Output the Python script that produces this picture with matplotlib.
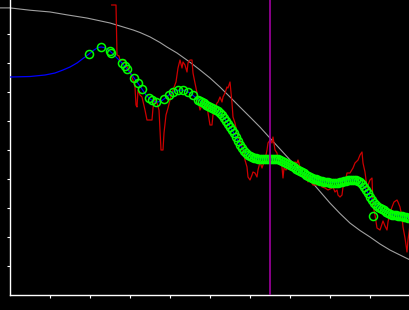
import matplotlib
matplotlib.use("Agg")
import matplotlib.pyplot as plt

# reference curve (grey)
ref_x = [-2.5, 0, 5, 10, 14.25, 19.25, 25, 27.5, 30.75, 32.5, 35, 37.5, 39.25, 41.75,
         44.25, 45.75, 47.5, 50, 52.5, 55, 57.5, 60, 62.5, 65, 67.5, 70, 72.5, 75, 77.5,
         80, 82.5, 85, 87.5, 90, 92.5, 95, 97.5, 100]
ref_y = [9.90, 9.90, 9.82, 9.76, 9.66, 9.55, 9.38, 9.276, 9.14, 9.052, 8.90, 8.707, 8.55,
         8.345, 8.10, 7.948, 7.76, 7.483, 7.17, 6.828, 6.48, 6.138, 5.79, 5.41, 5.034,
         4.66, 4.31, 3.97, 3.569, 3.17, 2.81, 2.48, 2.224, 2.00, 1.759, 1.55, 1.379, 1.21]

# raw signal (red)
raw_x = [25.43, 26.5, 26.75, 27.25, 27.5, 28.75, 29.0, 30.0, 30.75, 31.25, 31.5, 31.75,
         32.0, 32.5, 33.0, 33.75, 34.25, 35.5, 35.75, 36.25, 36.75, 37.25, 37.5, 37.75,
         38.25, 38.5, 39.0, 39.5, 40.0, 40.75, 41.5, 42.0, 42.5, 43.0, 43.25, 43.75,
         44.25, 44.5, 45.0, 45.5, 45.75, 46.25, 46.75, 47.0, 47.5, 48.0, 48.25, 48.75,
         49.25, 49.5, 50.0, 50.5, 50.75, 51.25, 51.75, 52.0, 52.5, 53.0, 53.25, 53.75,
         54.25, 54.5, 55.0, 55.25, 55.5, 55.75, 56.25, 56.75, 57.0, 57.5, 58.25, 58.75,
         59.25, 59.5, 60.0, 60.5, 60.75, 61.25, 61.75, 62.0, 62.5, 63.0, 63.25, 63.75,
         64.25, 64.5, 65.0, 65.5, 65.75, 66.25, 66.75, 67.0, 67.5, 68.0, 68.25, 68.5,
         69.0, 69.5, 70.0, 70.75, 71.25, 71.75, 72.0, 72.5, 73.0, 73.25, 74.25, 74.5,
         75.0, 75.75, 76.75, 77.0, 77.5, 78.0, 78.75, 79.5, 80.5, 80.75, 81.25, 81.75,
         82.0, 82.5, 83.0, 83.25, 83.75, 84.25, 85.0, 85.75, 86.25, 87.0, 87.5, 88.0,
         88.25, 88.75, 89.25, 89.5, 90.0, 90.5, 90.75, 91.25, 91.75, 92.5, 93.0, 93.25,
         93.75, 94.25, 94.5, 95.0, 95.5, 96.0, 96.75, 97.0, 97.5, 98.0, 98.25, 98.75,
         99.25, 99.5, 100.0]
raw_y = [10.0, 10.0, 8.276, 8.241, 8.103, 8.103, 7.931, 7.690, 7.414, 7.172, 6.552, 6.483,
         7.069, 6.897, 6.828, 6.379, 6.034, 6.034, 6.448, 6.793, 6.621, 6.379, 5.690, 5.0,
         5.0, 5.586, 6.207, 6.448, 6.724, 7.069, 7.345, 7.828, 8.103, 7.828, 8.034, 7.931,
         7.690, 8.0, 8.103, 8.103, 7.655, 7.310, 6.966, 6.724, 6.379, 6.552, 6.724, 6.483,
         6.621, 6.276, 5.862, 5.862, 6.207, 6.448, 6.621, 6.655, 6.828, 6.655, 6.828, 6.966,
         7.172, 7.138, 7.345, 7.0, 6.621, 6.138, 5.931, 5.586, 5.448, 5.345, 5.0, 4.655,
         4.414, 4.069, 3.966, 4.138, 4.241, 4.207, 4.069, 4.310, 4.586, 4.379, 4.483, 4.655,
         5.0, 5.241, 5.345, 5.241, 5.448, 5.0, 4.897, 4.655, 4.759, 4.414, 4.034, 4.379,
         4.310, 4.414, 4.379, 4.552, 4.586, 4.552, 4.655, 4.414, 4.310, 4.138, 4.069, 3.897,
         3.966, 3.793, 3.793, 3.966, 3.862, 3.724, 3.690, 3.621, 3.690, 3.724, 3.552, 3.621,
         3.448, 3.379, 3.448, 3.724, 3.862, 4.207, 4.207, 4.379, 4.552, 4.655, 4.828, 4.931,
         4.552, 4.241, 3.690, 3.793, 3.966, 4.034, 3.103, 2.759, 2.310, 2.241, 2.448, 2.552,
         2.379, 2.241, 2.517, 2.828, 3.034, 3.207, 3.276, 3.207, 3.034, 2.690, 2.345, 1.966,
         1.483, 1.897, 2.414]

# smooth fit (blue), head part without markers
curve_x = [0, 5, 8.75, 11.25, 13.25, 15, 16.75, 18.25, 19.75, 21, 22, 22.75, 23.5,
           24.5, 25.5, 26.75, 28, 29.25, 30.5, 31.75, 33, 34, 35, 36, 37, 38, 39, 40,
           41.25, 42.5, 43.75, 45, 46.25]
curve_y = [7.517, 7.534, 7.586, 7.655, 7.759, 7.862, 8.0, 8.155, 8.310, 8.448, 8.534,
           8.552, 8.534, 8.466, 8.345, 8.172, 8.0, 7.793, 7.586, 7.345, 7.103, 6.897,
           6.759, 6.672, 6.655, 6.707, 6.810, 6.931, 7.034, 7.069, 7.052, 6.966, 6.828]

# sparse fitted points (green rings)
ring_x = [19.75, 22.75, 24.9, 25.3, 28.0, 28.75, 29.25, 31.0, 32.0, 33.0, 34.75, 35.5,
          36.5, 38.5, 39.75, 40.75, 42.0, 43.25, 44.5, 45.75, 47.0]
ring_y = [8.310, 8.552, 8.400, 8.360, 8.000, 7.897, 7.793, 7.483, 7.310, 7.103, 6.793,
          6.724, 6.655, 6.759, 6.897, 7.000, 7.069, 7.069, 7.000, 6.897, 6.741]

# dense fitted points (green band, also continues the blue line)
band_x = [47.5, 48.0, 48.5, 49.0, 49.5, 50.0, 50.5, 51.0, 51.5, 52.0, 52.5, 53.0, 53.5,
          54.0, 54.5, 55.0, 55.5, 56.0, 56.5, 57.0, 57.5, 58.0, 58.5, 59.0, 59.5, 60.0,
          60.5, 61.0, 61.5, 62.0, 62.5, 63.0, 63.5, 64.0, 64.5, 65.0, 65.5, 66.0, 66.5,
          67.0, 67.5, 68.0, 68.5, 69.0, 69.5, 70.0, 70.5, 71.0, 71.5, 72.0, 72.5, 73.0,
          73.5, 74.0, 74.5, 75.0, 75.5, 76.0, 76.5, 77.0, 77.5, 78.0, 78.5, 79.0, 79.5,
          80.0, 80.5, 81.0, 81.5, 82.0, 82.5, 83.0, 83.5, 84.0, 84.5, 85.0, 85.5, 86.0,
          86.5, 87.0, 87.5, 88.0, 88.5, 89.0, 89.5, 90.0, 90.5, 91.0, 91.5, 92.0, 92.5,
          93.0, 93.5, 94.0, 94.5, 95.0, 95.5, 96.0, 96.5, 97.0, 97.5, 98.0, 98.5, 99.0,
          99.5, 100.0]
band_y = [6.690, 6.648, 6.607, 6.566, 6.524, 6.483, 6.455, 6.428, 6.393, 6.338, 6.276,
          6.193, 6.110, 6.014, 5.903, 5.793, 5.683, 5.572, 5.448, 5.310, 5.172, 5.069,
          4.972, 4.903, 4.841, 4.793, 4.766, 4.738, 4.717, 4.703, 4.690, 4.690, 4.690,
          4.690, 4.690, 4.690, 4.690, 4.690, 4.690, 4.690, 4.655, 4.628, 4.600, 4.559,
          4.524, 4.483, 4.441, 4.400, 4.359, 4.317, 4.276, 4.234, 4.193, 4.152, 4.110,
          4.069, 4.041, 4.014, 3.986, 3.959, 3.931, 3.917, 3.903, 3.893, 3.886, 3.879,
          3.879, 3.879, 3.879, 3.879, 3.897, 3.910, 3.924, 3.938, 3.952, 3.966, 3.966,
          3.966, 3.966, 3.938, 3.897, 3.814, 3.731, 3.634, 3.517, 3.379, 3.283, 3.186,
          3.103, 3.034, 3.000, 2.959, 2.917, 2.876, 2.834, 2.793, 2.772, 2.759, 2.745,
          2.731, 2.724, 2.710, 2.697, 2.683, 2.669, 2.655]

# stray point off the curve
stray_x = [90.75]
stray_y = [2.724]

cursor_x = 65.0

fig = plt.figure(figsize=(4.1, 3.1), dpi=100, facecolor="black")
ax = fig.add_axes([10 / 410, 15 / 310, 400 / 410, 295 / 310])
ax.set_facecolor("black")

ax.plot(ref_x, ref_y, color="#a0a0a0", lw=0.8, clip_on=False, zorder=1)
ax.plot(raw_x, raw_y, color="#cc0000", lw=0.9, zorder=2)
ax.plot(curve_x + band_x, curve_y + band_y, color="#0000ff", lw=0.9, zorder=3)
ax.plot(ring_x + band_x + stray_x, ring_y + band_y + stray_y, ls="none", marker="o",
        ms=5.8, mfc="none", mec="#00ff00", mew=1.1, antialiased=False, zorder=4)
ax.axvline(cursor_x, color="#a000a0", lw=1.2, zorder=5)

ax.set_xlim(0, 100)
ax.set_ylim(0, 295 / 29)
ax.set_xticks(range(10, 100, 10))
ax.set_yticks(range(1, 10))
ax.set_xticklabels([])
ax.set_yticklabels([])
ax.tick_params(colors="white", length=2.2, width=0.8, direction="out")
for side in ("top", "right"):
    ax.spines[side].set_visible(False)
for side in ("left", "bottom"):
    ax.spines[side].set_color("white")
    ax.spines[side].set_linewidth(1.0)

fig.savefig("out.png", dpi=100, facecolor="black")
